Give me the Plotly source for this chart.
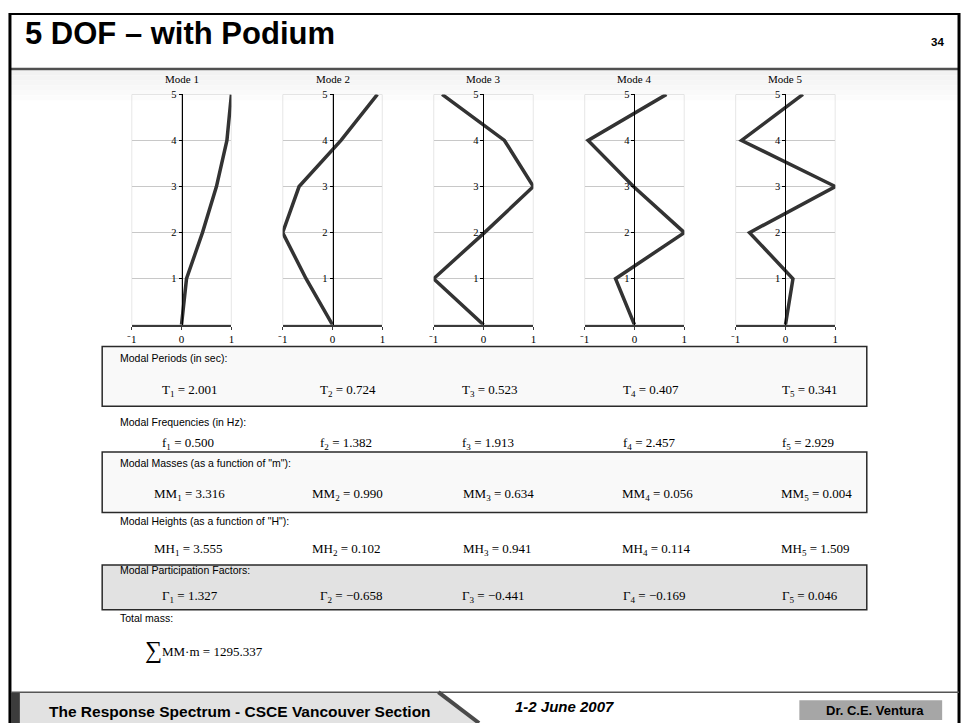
import plotly.graph_objects as go

# ---- data -----------------------------------------------------------------
floor_levels = [0, 1, 2, 3, 4, 5]
mode_names = ["Mode 1", "Mode 2", "Mode 3", "Mode 4", "Mode 5"]
mode1 = [0.00, 0.10, 0.42, 0.70, 0.91, 1.00]
mode2 = [0.00, -0.53, -1.00, -0.67, 0.17, 0.90]
mode3 = [0.00, -1.00, 0.02, 1.00, 0.42, -0.83]
mode4 = [0.00, -0.38, 1.00, -0.02, -0.93, 0.64]
mode5 = [0.00, 0.15, -0.72, 1.00, -0.88, 0.35]
mode_shapes = [mode1, mode2, mode3, mode4, mode5]
x_tick_vals = [-1, 0, 1]
x_tick_text = ["\u207b1", "0", "1"]
y_tick_vals = [1, 2, 3, 4, 5]

periods = [2.001, 0.724, 0.523, 0.407, 0.341]
frequencies = [0.500, 1.382, 1.913, 2.457, 2.929]
modal_masses = [3.316, 0.990, 0.634, 0.056, 0.004]
modal_heights = [3.555, 0.102, 0.941, 0.114, 1.509]
participation = [1.327, -0.658, -0.441, -0.169, 0.046]
total_mass = 1295.337

# ---- page geometry helpers (pixels -> paper) -------------------------------
W, H = 964, 723


def px(x):
    return x / W


def py(y):
    return 1 - y / H


SANS = "Liberation Sans, Arial, sans-serif"
SERIF = "Liberation Serif, Times New Roman, serif"

fig = go.Figure()
shapes = []
annotations = []

# ---- mode shape panels -----------------------------------------------------
panel_left0 = 127.7
panel_step = 152.25
panel_width = 100.6
panel_top, panel_bottom = 90, 322
n_modes = len(mode_shapes)

for i, shape in enumerate(mode_shapes):
    n = i + 1
    left = panel_left0 + panel_step * i
    right = left + panel_width
    zero = (left + right) / 2
    xa = "x" if n == 1 else f"x{n}"
    ya = "y" if n == 1 else f"y{n}"
    fig.add_trace(go.Scatter(
        x=shape, y=floor_levels, xaxis=xa, yaxis=ya, mode="lines",
        line=dict(color="#333333", width=3.5), showlegend=False,
        hoverinfo="skip",
    ))
    fig.layout[f"xaxis{'' if n == 1 else n}"] = dict(
        domain=[px(left), px(right)], range=[-1, 1], anchor=ya,
        tickvals=x_tick_vals, ticktext=x_tick_text,
        showgrid=True, gridcolor="#c8c8c8", gridwidth=1,
        showline=True, linecolor="#3a3a3a", linewidth=2,
        ticks="outside", ticklen=3, tickcolor="#3a3a3a", tickwidth=1,
        zeroline=False, fixedrange=True,
        tickfont=dict(family=SERIF, size=11, color="#000"),
    )
    fig.layout[f"yaxis{'' if n == 1 else n}"] = dict(
        domain=[py(panel_bottom), py(panel_top)], range=[0, 5],
        anchor="free", position=px(zero),
        tickvals=y_tick_vals, showgrid=True, gridcolor="#c8c8c8",
        gridwidth=1, showline=True, linecolor="#000", linewidth=1,
        ticks="outside", ticklen=3, tickcolor="#000", tickwidth=1,
        zeroline=False, fixedrange=True,
        tickfont=dict(family=SERIF, size=10.5, color="#000"),
    )
    # companion axes carrying the inner half of the crossing tick marks
    m = n + n_modes
    fig.layout[f"xaxis{m}"] = dict(
        overlaying=xa, anchor=ya, range=[-1, 1], tickvals=x_tick_vals,
        ticks="inside", ticklen=3, tickcolor="#3a3a3a", tickwidth=1,
        showticklabels=False, showgrid=False, showline=False,
        zeroline=False, fixedrange=True,
    )
    fig.layout[f"yaxis{m}"] = dict(
        overlaying=ya, anchor="free", position=px(zero), range=[0, 5],
        tickvals=y_tick_vals, ticks="inside", ticklen=3, tickcolor="#000",
        tickwidth=1, showticklabels=False, showgrid=False, showline=False,
        zeroline=False, fixedrange=True,
    )
    # gray frame edges of the panel
    shapes.append(dict(type="rect", xref=xa, yref=ya, x0=-1, x1=1, y0=0, y1=5,
                       line=dict(color="#c8c8c8", width=1), layer="below"))
    annotations.append(dict(text=mode_names[i], x=px(zero), y=py(75),
                            xref="paper", yref="paper", showarrow=False,
                            xanchor="center", yanchor="middle",
                            font=dict(family=SERIF, size=11, color="#000")))

# ---- slide frame -----------------------------------------------------------
# soft gray band below the title rule
band_cols = ["#f2f2f2", "#f4f4f4", "#f6f6f6", "#f8f8f8", "#fafafa", "#fcfcfc"]
for k, c in enumerate(band_cols):
    shapes.append(dict(type="rect", xref="paper", yref="paper",
                       x0=px(6), x1=px(961), y0=py(66 + 5 * (k + 1)), y1=py(66 + 5 * k),
                       fillcolor=c, line=dict(width=0), layer="below"))
shapes.append(dict(type="line", xref="paper", yref="paper", x0=px(5), x1=px(962),
                   y0=py(64.5), y1=py(64.5), line=dict(color="#505050", width=2.5)))
shapes.append(dict(type="line", xref="paper", yref="paper", x0=px(4), x1=px(963),
                   y0=py(9), y1=py(9), line=dict(color="#000", width=2)))
shapes.append(dict(type="line", xref="paper", yref="paper", x0=px(5), x1=px(5),
                   y0=py(8), y1=0, line=dict(color="#000", width=3)))
shapes.append(dict(type="line", xref="paper", yref="paper", x0=px(962), x1=px(962),
                   y0=py(8), y1=0, line=dict(color="#000", width=3)))

annotations.append(dict(text="<b>5 DOF \u2013 with Podium</b>", x=px(18), y=py(29),
                        xref="paper", yref="paper", showarrow=False,
                        xanchor="left", yanchor="middle",
                        font=dict(family=SANS, size=31, color="#000")))
annotations.append(dict(text="<b>34</b>", x=px(949), y=py(37),
                        xref="paper", yref="paper", showarrow=False,
                        xanchor="right", yanchor="middle",
                        font=dict(family=SANS, size=11.5, color="#000")))

# ---- footer ----------------------------------------------------------------
shapes.append(dict(type="path", xref="paper", yref="paper",
                   path=f"M {px(15)},{py(692)} L {px(438)},{py(692)} L {px(479)},{py(723)} L {px(15)},{py(723)} Z",
                   fillcolor="#e2e2e2", line=dict(width=0)))
shapes.append(dict(type="rect", xref="paper", yref="paper", x0=px(6), x1=px(15),
                   y0=0, y1=py(692), fillcolor="#3c3c3c", line=dict(width=0)))
shapes.append(dict(type="line", xref="paper", yref="paper", x0=px(6), x1=px(962),
                   y0=py(692), y1=py(692), line=dict(color="#555555", width=1.5)))
shapes.append(dict(type="line", xref="paper", yref="paper", x0=px(437), x1=px(478),
                   y0=py(692), y1=py(723), line=dict(color="#4a4a4a", width=4)))
shapes.append(dict(type="rect", xref="paper", yref="paper", x0=px(801), x1=px(945),
                   y0=py(720), y1=py(700), fillcolor="#a6a6a6", line=dict(width=0)))

annotations.append(dict(text="<b>The Response Spectrum - CSCE Vancouver Section</b>",
                        x=px(42), y=py(711), xref="paper", yref="paper",
                        showarrow=False, xanchor="left", yanchor="middle",
                        font=dict(family=SANS, size=15.5, color="#000")))
annotations.append(dict(text="<b><i>1-2 June 2007</i></b>", x=px(512), y=py(706),
                        xref="paper", yref="paper", showarrow=False,
                        xanchor="left", yanchor="middle",
                        font=dict(family=SANS, size=15, color="#000")))
annotations.append(dict(text="<b>Dr. C.E. Ventura</b>", x=px(877), y=py(710.5),
                        xref="paper", yref="paper", showarrow=False,
                        xanchor="center", yanchor="middle",
                        font=dict(family=SANS, size=13, color="#000")))

# ---- result tables ---------------------------------------------------------
box_left, box_right = 98, 869
table_boxes = [(344, 404, "#f9f9f9"), (450, 511, "#f9f9f9"), (564, 609, "#e2e2e2")]
for top, bottom, fill in table_boxes:
    shapes.append(dict(type="rect", xref="paper", yref="paper",
                       x0=px(box_left), x1=px(box_right), y0=py(bottom), y1=py(top),
                       fillcolor=fill, line=dict(color="#2a2a2a", width=1.5),
                       layer="below"))


def label(text, y):
    annotations.append(dict(text=text, x=px(114), y=py(y), xref="paper",
                            yref="paper", showarrow=False, xanchor="left",
                            yanchor="middle",
                            font=dict(family=SANS, size=10.5, color="#000")))


def fmt(v):
    s = f"{abs(v):.3f}"
    return ("\u2212" + s) if v < 0 else s


def value_row(symbol, values, y, xs):
    for k, v in enumerate(values):
        annotations.append(dict(text=f"{symbol}<sub>{k + 1}</sub> = {fmt(v)}",
                                x=px(xs[k]), y=py(y), xref="paper", yref="paper",
                                showarrow=False, xanchor="left", yanchor="middle",
                                font=dict(family=SERIF, size=13, color="#000")))


cols_a = [156, 316, 459, 621, 781]
cols_b = [148, 308, 460, 620, 780]

label("Modal Periods (in sec):", 355)
value_row("T", periods, 388, cols_a)
label("Modal Frequencies (in Hz):", 420)
value_row("f", frequencies, 442, cols_a)
label("Modal Masses (as a function of \"m\"):", 461)
value_row("MM", modal_masses, 493, cols_b)
label("Modal Heights (as a function of \"H\"):", 520)
value_row("MH", modal_heights, 548, cols_b)
label("Modal Participation Factors:", 569)
value_row("\u0393", participation, 596, cols_a)
label("Total mass:", 617)

annotations.append(dict(text="\u2211", x=px(139), y=py(650), xref="paper",
                        yref="paper", showarrow=False, xanchor="left",
                        yanchor="middle",
                        font=dict(family=SERIF, size=24, color="#000")))
annotations.append(dict(text=f"MM\u00b7m = {total_mass:.3f}", x=px(156), y=py(651),
                        xref="paper", yref="paper", showarrow=False,
                        xanchor="left", yanchor="middle",
                        font=dict(family=SERIF, size=13, color="#000")))

fig.update_layout(
    width=W, height=H, margin=dict(l=0, r=0, t=0, b=0),
    paper_bgcolor="#ffffff", plot_bgcolor="rgba(0,0,0,0)",
    shapes=shapes, annotations=annotations, showlegend=False,
)

fig.write_html("out.html")
